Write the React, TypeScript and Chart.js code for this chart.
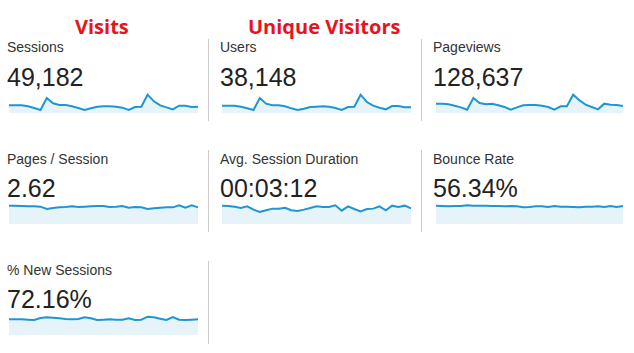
import React, { useEffect, useRef } from "react";
import { Chart, registerables } from "chart.js";

Chart.register(...registerables);

// ---- data ----
const DAYS = ["1","2","3","4","5","6","7","8","9","10","11","12","13","14","15","16","17","18","19","20","21","22","23","24","25","26","27","28","29","30","31"];

const SESSIONS = [1610,1610,1610,1400,1050,630,3150,2030,1680,1680,1400,1050,630,980,1330,1400,1400,1330,1120,630,1260,1330,3850,2450,1610,1190,770,1540,1540,1260,1330];
const USERS = [1188,1188,1188,1026,756,486,2430,1512,1242,1242,1080,756,486,702,972,1026,1080,1026,810,486,972,1026,2970,1782,1188,864,594,1134,1134,918,918];
const PAGEVIEWS = [4200,4200,3900,3300,2550,1500,6750,4500,3900,4200,3450,2700,1500,2550,3450,3600,3600,3300,2700,1500,3000,3000,8250,5700,3750,2700,1650,4200,3750,3600,3150];
const PAGES_PER_SESSION = [2.75,2.75,2.70,2.65,2.65,2.60,2.25,2.40,2.50,2.55,2.65,2.55,2.60,2.65,2.70,2.70,2.55,2.60,2.70,2.45,2.55,2.50,2.25,2.35,2.45,2.50,2.50,2.80,2.45,2.80,2.50];
const AVG_DURATION = [198,194,187,173,191,155,130,148,166,166,176,148,140,155,173,191,184,184,202,144,191,162,137,162,166,191,148,198,184,198,169];
const BOUNCE_RATE = [58.9,57.8,56.7,57.8,57.8,59.9,58.9,58.9,58.9,57.8,57.8,56.7,57.8,56.7,53.5,54.6,56.7,56.7,54.6,57.8,55.6,55.6,54.6,53.5,55.6,55.6,56.7,54.6,57.8,54.6,57.8];
const NEW_SESSIONS = [70.5,70.5,70.5,69.0,67.5,76.5,79.5,78.0,75.0,72.0,70.5,72.0,79.5,75.0,67.5,69.0,70.5,69.0,69.0,75.0,67.5,69.0,82.5,79.5,73.5,67.5,81.0,69.0,67.5,69.0,70.5];

const METRIC_NAMES = ["Sessions","Users","Pageviews","Pages / Session","Avg. Session Duration","Bounce Rate","% New Sessions"];
const METRIC_TOTALS = ["49,182","38,148","128,637","2.62","00:03:12","56.34%","72.16%"];
const METRIC_SERIES = [SESSIONS, USERS, PAGEVIEWS, PAGES_PER_SESSION, AVG_DURATION, BOUNCE_RATE, NEW_SESSIONS];
const AXIS_MAX = [4620, 3564, 9900, 3.3, 237.6, 70.6, 99];
const HEADINGS = ["Visits", "Unique Visitors"];

// ---- layout ----
const COL_TEXT_X = [7, 220, 433];
const COL_LINE_X = [9, 222, 436];
const COL_LINE_W = [189, 189, 187];
const ROW_OFFSET = 111.2;

function Sparkline({ values, max, left, bottom, width }: { values: number[]; max: number; left: number; bottom: number; width: number }) {
  const ref = useRef<HTMLCanvasElement | null>(null);
  const H = 24;
  useEffect(() => {
    if (!ref.current) return;
    const chart = new Chart(ref.current, {
      type: "line",
      data: {
        labels: DAYS,
        datasets: [
          {
            data: values,
            borderColor: "#1f96d2",
            backgroundColor: "rgba(5,141,199,0.1)",
            borderWidth: 2,
            fill: "origin",
            tension: 0,
            pointRadius: 0,
            borderJoinStyle: "miter",
          },
        ],
      },
      options: {
        animation: false,
        responsive: false,
        maintainAspectRatio: false,
        devicePixelRatio: 1,
        layout: { padding: { left: 1, right: 1, top: 0, bottom: 0 } },
        plugins: { legend: { display: false }, tooltip: { enabled: false } },
        scales: {
          x: { display: false },
          y: { display: false, min: 0, max: max * (H / 22) },
        },
      },
    });
    return () => chart.destroy();
  }, [values, max]);
  return (
    <canvas
      ref={ref}
      width={width + 2}
      height={H}
      style={{ position: "absolute", left: left - 1, top: bottom - H, width: width + 2, height: H }}
    />
  );
}

export default function App() {
  const items = METRIC_NAMES.map((name, i) => {
    const col = i % 3;
    const row = Math.floor(i / 3);
    const dy = row * ROW_OFFSET;
    return (
      <React.Fragment key={name}>
        <div
          style={{
            position: "absolute",
            left: COL_TEXT_X[col],
            top: 40.4 + dy,
            fontFamily: "'Liberation Sans', Arial, sans-serif",
            fontSize: 14,
            lineHeight: "14px",
            color: "#333",
            whiteSpace: "nowrap",
          }}
        >
          {name}
        </div>
        <div
          style={{
            position: "absolute",
            left: COL_TEXT_X[col],
            top: 64.8 + dy,
            fontFamily: "'Liberation Sans', Arial, sans-serif",
            fontSize: 25,
            lineHeight: "25px",
            color: "#222",
            whiteSpace: "nowrap",
          }}
        >
          {METRIC_TOTALS[i]}
        </div>
        <Sparkline
          values={METRIC_SERIES[i]}
          max={AXIS_MAX[i]}
          left={COL_LINE_X[col]}
          bottom={113 + dy}
          width={COL_LINE_W[col]}
        />
        {col > 0 && (
          <div
            style={{
              position: "absolute",
              left: col === 1 ? 207.5 : 421,
              top: 39 + dy,
              width: 1,
              height: 82,
              background: "#ccc",
            }}
          />
        )}
      </React.Fragment>
    );
  });

  return (
    <div style={{ position: "absolute", left: 0, top: 0, width: 634, height: 353, background: "#fff", overflow: "hidden" }}>
      <div
        style={{
          position: "absolute",
          left: 75,
          top: 16.5,
          fontFamily: "'Open Sans', sans-serif",
          fontWeight: 700,
          fontSize: 20,
          lineHeight: "20px",
          color: "#e8141c",
          whiteSpace: "nowrap",
        }}
      >
        {HEADINGS[0]}
      </div>
      <div
        style={{
          position: "absolute",
          left: 248,
          top: 16.5,
          fontFamily: "'Open Sans', sans-serif",
          fontWeight: 700,
          fontSize: 20,
          lineHeight: "20px",
          color: "#e8141c",
          whiteSpace: "nowrap",
        }}
      >
        {HEADINGS[1]}
      </div>
      {items}
      <div style={{ position: "absolute", left: 207.5, top: 39 + 2 * ROW_OFFSET, width: 1, height: 83, background: "#ccc" }} />
    </div>
  );
}
